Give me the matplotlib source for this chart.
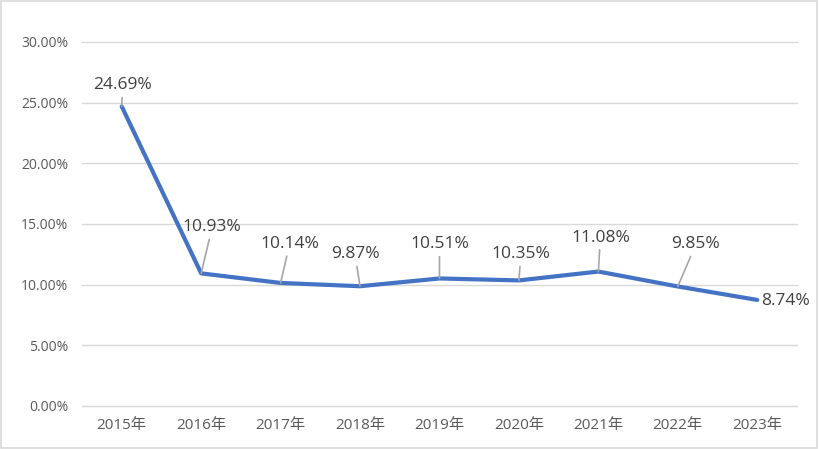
import matplotlib.pyplot as plt
from matplotlib.patches import Rectangle

plt.rcParams['font.family'] = ['Open Sans', 'Noto Sans CJK SC', 'DejaVu Sans']

years = ['2015年', '2016年', '2017年', '2018年', '2019年', '2020年', '2021年', '2022年', '2023年']
rates = [24.69, 10.93, 10.14, 9.87, 10.51, 10.35, 11.08, 9.85, 8.74]
# label offsets (pixels) from each point
label_dx = [1, 11, 9, -5, 0, 2, 2, 18, 28]
label_dy = [21, 46, 39, 32, 34, 26, 34, 42, -1]

fig = plt.figure(figsize=(8.19, 4.49), dpi=100)
ax = fig.add_axes([0.1001, 0.0958, 0.873, 0.8107])

x = range(len(years))
ax.plot(x, rates, color='#4472C4', linewidth=3, solid_capstyle='round', zorder=3)

for i, v in enumerate(rates):
    arrow = dict(arrowstyle='-', color='#a6a6a6', lw=1.2, shrinkA=1, shrinkB=0)
    if i == len(rates) - 1:
        arrow = None
    ax.annotate(f'{v:.2f}%', xy=(i, v), xytext=(label_dx[i], label_dy[i]),
                textcoords='offset pixels', ha='center', va='center',
                fontsize=12.5, color='#404040', arrowprops=arrow, zorder=4)

ax.set_xlim(-0.5, len(years) - 0.5)
ax.set_ylim(0, 30)
ax.set_yticks(range(0, 31, 5))
ax.set_yticklabels([f'{t:.2f}%' for t in range(0, 31, 5)])
ax.set_xticks(list(x))
ax.set_xticklabels(years)
ax.grid(axis='y', color='#d9d9d9', linewidth=1)
for gl in ax.get_ygridlines():
    gl.set_clip_on(False)
ax.set_axisbelow(True)
for s in ax.spines.values():
    s.set_visible(False)
ax.tick_params(axis='both', length=0, labelcolor='#595959')
ax.tick_params(axis='y', pad=10, labelsize=10)
ax.tick_params(axis='x', pad=9, labelsize=11)

fig.patches.append(Rectangle((0.001, 0.002), 0.997, 0.995, transform=fig.transFigure,
                             fill=False, edgecolor='#d9d9d9', linewidth=1.2))

fig.savefig('out.png', dpi=100)
